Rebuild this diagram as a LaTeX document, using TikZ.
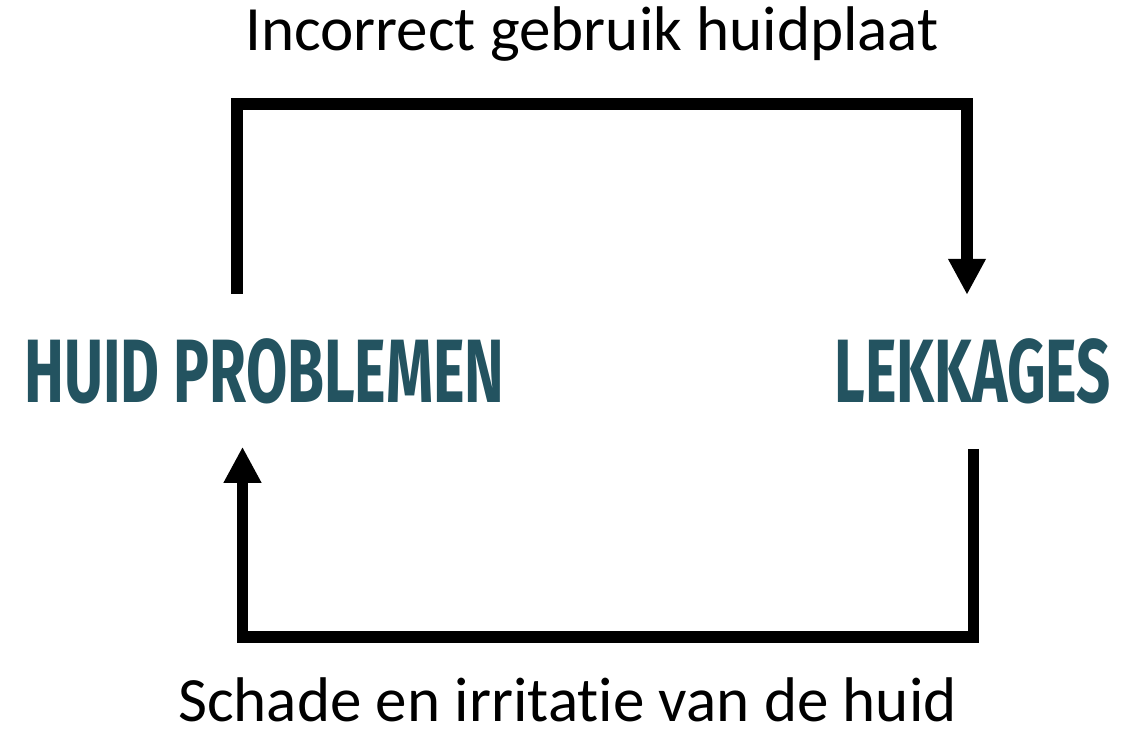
\documentclass[tikz,border=0pt]{standalone}
\usepackage{fontspec}
\setmainfont[Ligatures=NoCommon]{Carlito}
\newfontfamily\headfont[FakeStretch=0.665]{Fira Sans}
\usetikzlibrary{arrows.meta,calc}
\definecolor{huidblauw}{RGB}{35,83,96}
\begin{document}
\begin{tikzpicture}[x=0.75pt, y=-0.75pt,
  kop/.style={font=\headfont\bfseries\fontsize{67.5}{70}\selectfont, text=huidblauw, inner sep=0pt, anchor=base},
  tekst/.style={font=\fontsize{47.3}{50}\selectfont, inner sep=0pt, text depth=0pt, anchor=base},
  pijl/.style={line width=8.6pt, line join=miter, -{Triangle[length=27pt,width=26.5pt]}}]
\useasboundingbox (0,0) rectangle (1135,731);
\node[kop] (hp) at (264.5,402) {HUID PROBLEMEN};
\node[kop] (lk) at (972.5,402) {LEKKAGES};
\node[tekst] (boven) at (592,51) {Incorrect gebruik huidplaat};
\node[tekst] (onder) at (567.5,721) {Schade en irritatie van de huid};
\draw[pijl] ($(hp.north)+(-27.5,-44)$) -- ++(0,-190) -| ($(lk.north)+(-5.5,-43)$);
\draw[pijl] ($(lk.south)+(1,45)$) -- ++(0,188) -| ($(hp.south)+(-22,43)$);
\end{tikzpicture}
\end{document}
